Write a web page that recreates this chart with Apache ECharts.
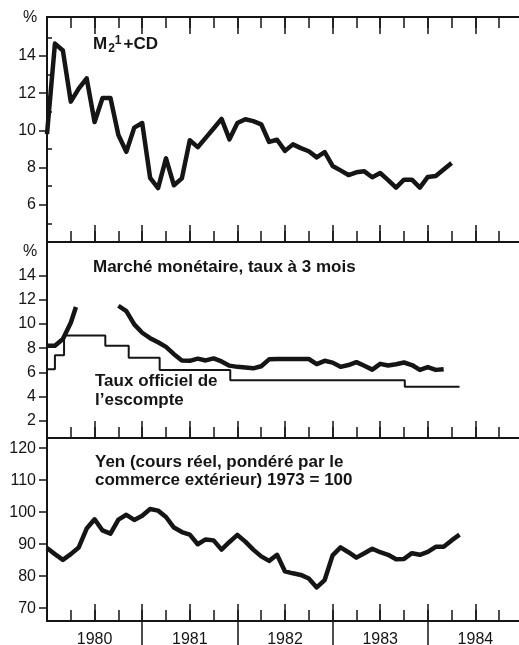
<!DOCTYPE html>
<html lang="fr">
<head>
<meta charset="UTF-8">
<title>Japon - monnaie, taux, yen</title>
<script src="https://cdn.jsdelivr.net/npm/echarts@6/dist/echarts.min.js"></script>
</head>
<body style="margin:0;background:#fff">
<div id="chart" style="width:519px;height:645px"></div>
<script>
// mois : 0 = janvier 1980
var m2cd = [9.8, 14.67, 14.3, 11.55, 12.25, 12.8, 10.45, 11.74, 11.74, 9.75,
  8.85, 10.15, 10.4, 7.45, 6.9, 8.5, 7.05, 7.42, 9.47, 9.1,
  9.6, 10.1, 10.62, 9.52, 10.4, 10.6, 10.5, 10.33, 9.38, 9.5,
  8.9, 9.25, 9.05, 8.88, 8.55, 8.84, 8.09, 7.85, 7.6, 7.75,
  7.8, 7.48, 7.71, 7.33, 6.92, 7.35, 7.35, 6.92, 7.5, 7.55,
  7.9, 8.25];

// marché monétaire, taux à 3 mois (interrompu mi-1980)
var mmMonths = [0, 1, 2, 3, 3.65, 6,
  9, 10, 11, 12, 13, 14, 15, 16, 17, 18, 19, 20, 21, 22, 23, 24, 25, 26, 27, 28, 29,
  30, 31, 32, 33, 34, 35, 36, 37, 38, 39, 40, 41, 42, 43, 44, 45, 46, 47, 48, 49, 50];
var mmRates = [8.2, 8.2, 8.75, 10.1, 11.4, null,
  11.5, 11.05, 9.96, 9.27, 8.82, 8.48, 8.1, 7.5, 6.98, 6.95, 7.13, 6.98, 7.15, 6.9, 6.55,
  6.45, 6.4, 6.33, 6.5, 7.07, 7.1, 7.1, 7.1, 7.1, 7.1, 6.68, 6.95,
  6.8, 6.45, 6.6, 6.84, 6.54, 6.22, 6.7, 6.56, 6.67, 6.81, 6.6, 6.2, 6.43, 6.2, 6.26];

// taux officiel de l'escompte (paliers)
var discMonths = [0, 1, 2.15, 7.35, 10.3, 14.2, 23.1, 45.1, 52];
var discRates = [6.25, 7.4, 9.05, 8.2, 7.2, 6.2, 5.35, 4.8, 4.8];

// yen, cours réel pondéré (1973 = 100)
var yen = [88.8, 86.9, 85.1, 86.9, 89, 94.9, 97.8, 94.3, 93.3, 97.7,
  99.2, 97.6, 98.9, 101, 100.5, 98.5, 95.2, 93.8, 93.0, 90.0,
  91.5, 91.2, 88.3, 90.7, 92.9, 90.8, 88.3, 86.2, 84.8, 86.7,
  81.5, 80.9, 80.4, 79.3, 76.5, 78.8, 86.5, 89.0, 87.5, 85.8,
  87.2, 88.6, 87.5, 86.7, 85.3, 85.4, 87.2, 86.7, 87.6, 89.2,
  89.2, 91.2, 93.0];

var years = ['1980', '1981', '1982', '1983', '1984'];
var yearMid = [6, 18, 30, 42, 54];
var yearEdge = [12, 24, 36, 48];

var ticks1 = [6, 8, 10, 12, 14];
var minor1 = [5, 7, 9, 11, 13, 15];
var ticks2 = [2, 4, 6, 8, 10, 12, 14];
var ticks3 = [70, 80, 90, 100, 110, 120];

var FONT = "'Liberation Sans', Arial, Helvetica, sans-serif";
var INK = '#151515';
var X_MAX = 60;   // le cadre dépasse un peu le bord droit
var PLOT_W = 476;

var chart = echarts.init(document.getElementById('chart'));

function pairs(xs, ys) {
  return xs.map(function (x, i) { return [x, ys[i]]; });
}
function monthly(ys) {
  return ys.map(function (y, i) { return [i, y]; });
}

// axe des mois, graduations longues tous les 6 mois
// (minorTick laissé actif mais transparent : sans lui les graduations ne sortaient pas)
function monthAxis(grid, pos) {
  return {
    type: 'value', gridIndex: grid, position: pos, min: 0, max: X_MAX, interval: 6,
    axisLine: { show: true, onZero: false, lineStyle: { color: INK, width: 2 } },
    axisTick: { show: true, inside: true, length: 17, lineStyle: { color: INK, width: 1.5 } },
    minorTick: { show: true, splitNumber: 2, length: 1, lineStyle: { color: 'rgba(0,0,0,0)', width: 0 } },
    axisLabel: { show: false },
    splitLine: { show: false }
  };
}

// graduations courtes au trimestre
function quarterAxis(grid, pos) {
  return {
    type: 'value', gridIndex: grid, position: pos, min: 0, max: X_MAX, interval: 3,
    axisLine: { show: true, onZero: false, lineStyle: { color: INK, width: 2 } },
    axisTick: { show: true, inside: true, length: 11, lineStyle: { color: INK, width: 1.5 } },
    axisLabel: { show: false },
    splitLine: { show: false }
  };
}

// séparations entre années sous le cadre, avec les années
var yearAxis = {
  type: 'value', gridIndex: 2, position: 'bottom', min: 0, max: X_MAX,
  axisLine: { show: false, onZero: false },
  axisTick: { show: true, inside: false, length: 24, customValues: yearEdge,
    lineStyle: { color: INK, width: 1.5 } },
  axisLabel: {
    show: true, customValues: yearMid, margin: 11,
    fontFamily: FONT, fontSize: 16, color: INK,
    formatter: function (v) { return years[Math.round((v - 6) / 12)]; }
  },
  splitLine: { show: false }
};

function valueAxis(grid, min, max, vals, opts) {
  opts = opts || {};
  return {
    type: 'value', gridIndex: grid, position: 'left', min: min, max: max,
    axisLine: { show: !opts.minor, onZero: false, lineStyle: { color: INK, width: 2 } },
    axisTick: { show: true, inside: !!opts.minor, length: opts.minor ? 5 : 8, customValues: vals,
      lineStyle: { color: INK, width: 1.5 } },
    axisLabel: opts.minor ? { show: false } : {
      show: true, customValues: vals, margin: 11,
      fontFamily: FONT, fontSize: 16, color: INK
    },
    splitLine: { show: false }
  };
}

function txt(text, left, top, extra) {
  return {
    text: text, left: left, top: top, padding: 0,
    textStyle: Object.assign({ fontFamily: FONT, fontSize: 17, fontWeight: 'bold', color: INK, lineHeight: 19 }, extra || {})
  };
}

var option = {
  animation: false,
  backgroundColor: '#fff',
  grid: [
    { left: 47, width: PLOT_W, top: 17, height: 225, outerBoundsMode: 'none' },
    { left: 47, width: PLOT_W, top: 242, height: 196, outerBoundsMode: 'none' },
    { left: 47, width: PLOT_W, top: 438, height: 183, outerBoundsMode: 'none' }
  ],
  title: [
    txt('%', 23, 9, { fontWeight: 'normal', fontSize: 16, lineHeight: 18 }),
    txt('%', 23, 243, { fontWeight: 'normal', fontSize: 16, lineHeight: 18 }),
    {
      text: 'M{sub|2}{sup|1}+CD', left: 93, top: 35, padding: 0,
      textStyle: {
        fontFamily: FONT, fontSize: 17, fontWeight: 'bold', color: INK, lineHeight: 19,
        rich: {
          sub: { fontFamily: FONT, fontSize: 12, fontWeight: 'bold', color: INK, padding: [8, 0, 0, 1] },
          sup: { fontFamily: FONT, fontSize: 12, fontWeight: 'bold', color: INK, padding: [0, 2, 7, 0] }
        }
      }
    },
    txt('Marché monétaire, taux à 3 mois', 93, 258),
    txt('Taux officiel de\nl’escompte', 95, 372),
    txt('Yen (cours réel, pondéré par le\ncommerce extérieur) 1973 = 100', 95, 453, { lineHeight: 18 })
  ],
  xAxis: [
    monthAxis(0, 'bottom'),     // 0 : M2 + CD
    quarterAxis(0, 'bottom'),
    monthAxis(0, 'top'),        // 2 : cadre haut
    quarterAxis(0, 'top'),
    monthAxis(1, 'bottom'),     // 4 : taux
    quarterAxis(1, 'bottom'),
    monthAxis(2, 'bottom'),     // 6 : yen
    quarterAxis(2, 'bottom'),
    yearAxis                    // 8
  ],
  yAxis: [
    valueAxis(0, 4, 16.1, ticks1),
    valueAxis(0, 4, 16.1, minor1, { minor: true }),
    valueAxis(1, 0.57, 16.77, ticks2),
    valueAxis(2, 66, 123.2, ticks3)
  ],
  series: [
    {
      name: 'M2 + CD', type: 'line', xAxisIndex: 0, yAxisIndex: 0,
      data: monthly(m2cd), symbol: 'none',
      lineStyle: { color: INK, width: 4.5, join: 'round' }
    },
    {
      name: 'Marché monétaire', type: 'line', xAxisIndex: 4, yAxisIndex: 2,
      data: pairs(mmMonths, mmRates), symbol: 'none', connectNulls: false,
      lineStyle: { color: INK, width: 4.5, join: 'round' }
    },
    {
      name: 'Taux officiel de l’escompte', type: 'line', xAxisIndex: 4, yAxisIndex: 2,
      data: pairs(discMonths, discRates), symbol: 'none', step: 'end',
      lineStyle: { color: INK, width: 2 }
    },
    {
      name: 'Yen', type: 'line', xAxisIndex: 6, yAxisIndex: 3,
      data: monthly(yen), symbol: 'none',
      lineStyle: { color: INK, width: 4.5, join: 'round' }
    }
  ]
};

chart.setOption(option);
</script>
</body>
</html>
